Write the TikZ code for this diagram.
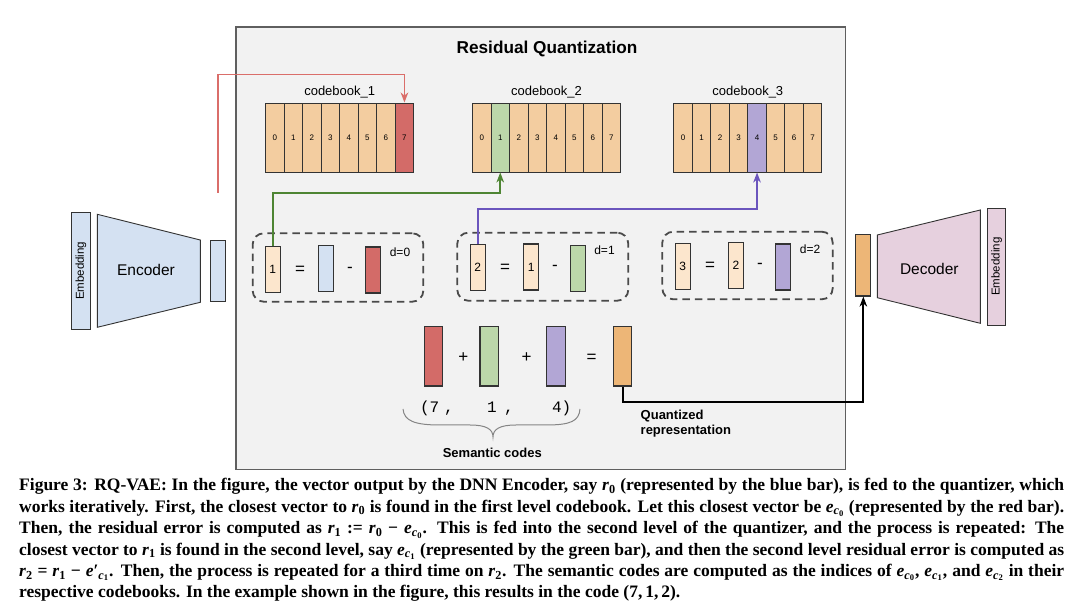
\documentclass[tikz,border=0pt]{standalone}
\usepackage{fontspec}
\setmainfont{Liberation Sans}
\newfontfamily\capserif{Liberation Serif}
\newfontfamily\codemono{Liberation Mono}
\usetikzlibrary{arrows.meta,calc}
\definecolor{boxbg}{HTML}{F2F2F2}
\definecolor{boxline}{HTML}{5F5F5F}
\definecolor{cbfill}{HTML}{F3CDA0}
\definecolor{redc}{HTML}{D36B68}
\definecolor{greenc}{HTML}{BCD7AA}
\definecolor{purplec}{HTML}{B2A6D5}
\definecolor{bluec}{HTML}{D4E1F2}
\definecolor{peach}{HTML}{FCE6CD}
\definecolor{quant}{HTML}{EDB677}
\definecolor{pinkc}{HTML}{E6D0DE}
\definecolor{colRedLine}{HTML}{DA6E6A}
\definecolor{colGreenLine}{HTML}{4E8533}
\definecolor{colPurpLine}{HTML}{6B55BD}
\definecolor{strokec}{HTML}{333333}
\definecolor{dashc}{HTML}{4A4A4A}
\definecolor{bracec}{HTML}{858585}
\newcommand\rvec[1]{\textit{r}\textsubscript{#1}}
\newcommand\evec[1]{\textit{e}\textsubscript{\textit{c}\textsubscript{#1}}}
\newcommand\epvec[1]{\textit{e}′\textsubscript{\textit{c}\textsubscript{#1}}}
\begin{document}
\begin{tikzpicture}[x=1pt,y=-1pt,
  cell/.style={draw=strokec, line width=0.9pt, fill=cbfill, minimum width=18.5pt, minimum height=69pt, inner sep=0pt, font=\fontsize{8}{9}\selectfont},
  vbar/.style={draw=strokec, line width=1.1pt, minimum width=15pt, minimum height=46pt, inner sep=0pt, font=\fontsize{12}{14}\selectfont},
  sbar/.style={draw=strokec, line width=1.1pt, minimum width=18.4pt, minimum height=59.3pt, inner sep=0pt},
  dbox/.style={draw=dashc, line width=1.8pt, dash pattern=on 7.5pt off 5pt, rounded corners=11pt, inner sep=0pt},
  opsym/.style={font=\fontsize{17}{19}\selectfont, inner sep=0pt},
  dlab/.style={font=\fontsize{12}{14}\selectfont, inner sep=0pt},
  cblab/.style={font=\fontsize{13}{15}\selectfont, inner sep=0pt},
  conn/.style={line width=1.8pt, -{Stealth[length=10pt,width=7.5pt,inset=3pt]}},
  shapeline/.style={draw=strokec, line width=0.9pt},
  codetok/.style={font=\codemono\fontsize{16}{19}\selectfont, inner sep=0pt, anchor=base},
  boldlab/.style={font=\bfseries\fontsize{13}{14.7}\selectfont, inner sep=0pt},
]
\useasboundingbox (0,0) rectangle (1080,609);
\fill[white] (0,0) rectangle (1080,609);

% main grey panel
\node[draw=boxline, fill=boxbg, line width=1.4pt, minimum width=609.7pt, minimum height=442.5pt, inner sep=0pt] (rq) at (540.85,248.25) {};
\node[font=\bfseries\fontsize{17.2}{20}\selectfont, inner sep=0pt] (title) at (547,49) {Residual Quantization};

% codebooks
\node[cblab] (cb1lab) at (339.7,92) {codebook\_1};
\node[cblab] (cb2lab) at (546.5,92) {codebook\_2};
\node[cblab] (cb3lab) at (747.8,92) {codebook\_3};
\foreach \i in {0,...,6} \node[cell] (cb1c\i) at ({265.7+9.25+18.5*\i},137.5) {\i};
\node[cell, fill=redc] (cb1c7) at ({265.7+9.25+18.5*7},137.5) {7};
\node[cell] (cb2c0) at ({472.5+9.25},137.5) {0};
\node[cell, fill=greenc] (cb2c1) at ({472.5+9.25+18.5},137.5) {1};
\foreach \i in {2,...,7} \node[cell] (cb2c\i) at ({472.5+9.25+18.5*\i},137.5) {\i};
\foreach \i in {0,...,3} \node[cell] (cb3c\i) at ({673.8+9.25+18.5*\i},137.5) {\i};
\node[cell, fill=purplec] (cb3c4) at ({673.8+9.25+18.5*4},137.5) {4};
\foreach \i in {5,...,7} \node[cell] (cb3c\i) at ({673.8+9.25+18.5*\i},137.5) {\i};

% encoder side
\node[shapeline, fill=bluec, rotate=90, minimum width=116.3pt, minimum height=18.3pt, inner sep=0pt, font=\fontsize{11.5}{13}\selectfont] (embL) at (80.85,270.85) {Embedding};
\draw[shapeline, fill=bluec] (97.3,214.3) -- (200.3,240) -- (200.3,302.3) -- (97.3,327.3) -- cycle;
\node[font=\fontsize{15.5}{18}\selectfont, inner sep=0pt] (enctext) at (146,270) {Encoder};
\node[vbar, fill=bluec, minimum height=61pt] (encout) at (217.8,270.8) {};

% decoder side
\node[vbar, fill=quant, minimum height=61.7pt] (decin) at (863.35,265.15) {};
\draw[shapeline, fill=pinkc] (877.3,235) -- (980.3,210) -- (980.3,323.3) -- (877.3,297.7) -- cycle;
\node[font=\fontsize{15.5}{18}\selectfont, inner sep=0pt] (dectext) at (929.3,269) {Decoder};
\node[shapeline, fill=pinkc, rotate=90, minimum width=116.7pt, minimum height=18pt, inner sep=0pt, font=\fontsize{11.5}{13}\selectfont] (embR) at (996.7,266.65) {Embedding};

% dashed residual boxes
\node[dbox, minimum width=170.6pt, minimum height=68.4pt] (box1) at (338,267.5) {};
\node[dbox, minimum width=171pt, minimum height=68pt] (box2) at (542.8,266.7) {};
\node[dbox, minimum width=170.4pt, minimum height=67.6pt] (box3) at (747.5,265.5) {};

\node[vbar, fill=peach] (r1) at (272.6,269.5) {1};
\node[opsym] (eq1) at (300,270) {=};
\node[vbar, fill=bluec] (x1) at (326.3,268.4) {};
\node[opsym] (mi1) at (350,270) {-};
\node[vbar, fill=redc] (q1) at (373,270) {};
\node[dlab] (d0) at (400,252.3) {d=0};

\node[vbar, fill=peach] (r2) at (477.6,267.5) {2};
\node[opsym] (eq2) at (505,268) {=};
\node[vbar, fill=peach] (r1b) at (531.1,267) {1};
\node[opsym] (mi2) at (555,268) {-};
\node[vbar, fill=greenc] (q2) at (578,268.7) {};
\node[dlab] (d1) at (604.5,250.7) {d=1};

\node[vbar, fill=peach] (r3) at (682.8,266.2) {3};
\node[opsym] (eq3) at (710,266) {=};
\node[vbar, fill=peach] (r2b) at (736,265.7) {2};
\node[opsym] (mi3) at (760,266) {-};
\node[vbar, fill=purplec] (q3) at (782.8,267) {};
\node[dlab] (d2) at (810,249.3) {d=2};

% sum row
\node[sbar, fill=redc] (s1) at (433.5,356.4) {};
\node[opsym] (p1) at (463.3,358) {+};
\node[sbar, fill=greenc] (s2) at (489.2,356.4) {};
\node[opsym] (p2) at (526.7,358) {+};
\node[sbar, fill=purplec] (s3) at (556,356.4) {};
\node[opsym] (eq4) at (591.7,358) {=};
\node[sbar, fill=quant] (qbar) at (622.7,356.4) {};

\node[codetok] (tk1) at (425,413) {(};
\node[codetok] (tk2) at (434.5,413) {7};
\node[codetok] (tk3) at (449,413) {,};
\node[codetok] (tk4) at (492,413) {1};
\node[codetok] (tk5) at (509,413) {,};
\node[codetok] (tk6) at (557,413) {4};
\node[codetok] (tk7) at (566.5,413) {)};

\draw[bracec, line width=1pt] (403,409) .. controls (404,421) and (415,425) .. (440,425) -- (470,425) .. controls (486,425) and (493,429) .. (493,437) .. controls (493,429) and (500,425) .. (516,425) -- (546,425) .. controls (571,425) and (579,421) .. (580,409);
\node[boldlab] (semlab) at (492.3,452.7) {Semantic codes};
\node[boldlab, anchor=west, align=left] (qlab) at (640.5,423.5) {Quantized\\representation};

% connectors
\coordinate (redstart) at (217.8,193);
\draw[conn, colRedLine] (redstart) |- ($(cb1c7.north)+(0,-28)$) -- (cb1c7.north);
\draw[conn, colGreenLine] (r1.north) |- ($(cb2c1.south)+(0,20.7)$) -- (cb2c1.south);
\draw[conn, colPurpLine] (r2.north) |- ($(cb3c4.south)+(0,36.3)$) -- (cb3c4.south);
\draw[conn, black] (qbar.south) |- ($(decin.south)+(0,105.7)$) -- (decin.south);

% caption
\node[anchor=base west, inner sep=0pt] (caption) at (19,491) {\begin{minipage}[t]{1045pt}\capserif\bfseries\fontsize{17.5}{21.4}\selectfont
\hbox to \linewidth{Figure 3: RQ-VAE: In the figure, the vector output by the DNN Encoder, say \rvec{0} (represented by the blue bar), is fed to the quantizer, which}
\hbox to \linewidth{works iteratively. First, the closest vector to \rvec{0} is found in the first level codebook. Let this closest vector be \evec{0} (represented by the red bar).}
\hbox to \linewidth{Then, the residual error is computed as \rvec{1} := \rvec{0} − \evec{0}. This is fed into the second level of the quantizer, and the process is repeated: The}
\hbox to \linewidth{closest vector to \rvec{1} is found in the second level, say \evec{1} (represented by the green bar), and then the second level residual error is computed as}
\hbox to \linewidth{\rvec{2} = \rvec{1} − \epvec{1}. Then, the process is repeated for a third time on \rvec{2}. The semantic codes are computed as the indices of \evec{0}, \evec{1}, and \evec{2} in their}
\hbox{respective codebooks. In the example shown in the figure, this results in the code (7,\,1,\,2).}
\end{minipage}};
\end{tikzpicture}
\end{document}
